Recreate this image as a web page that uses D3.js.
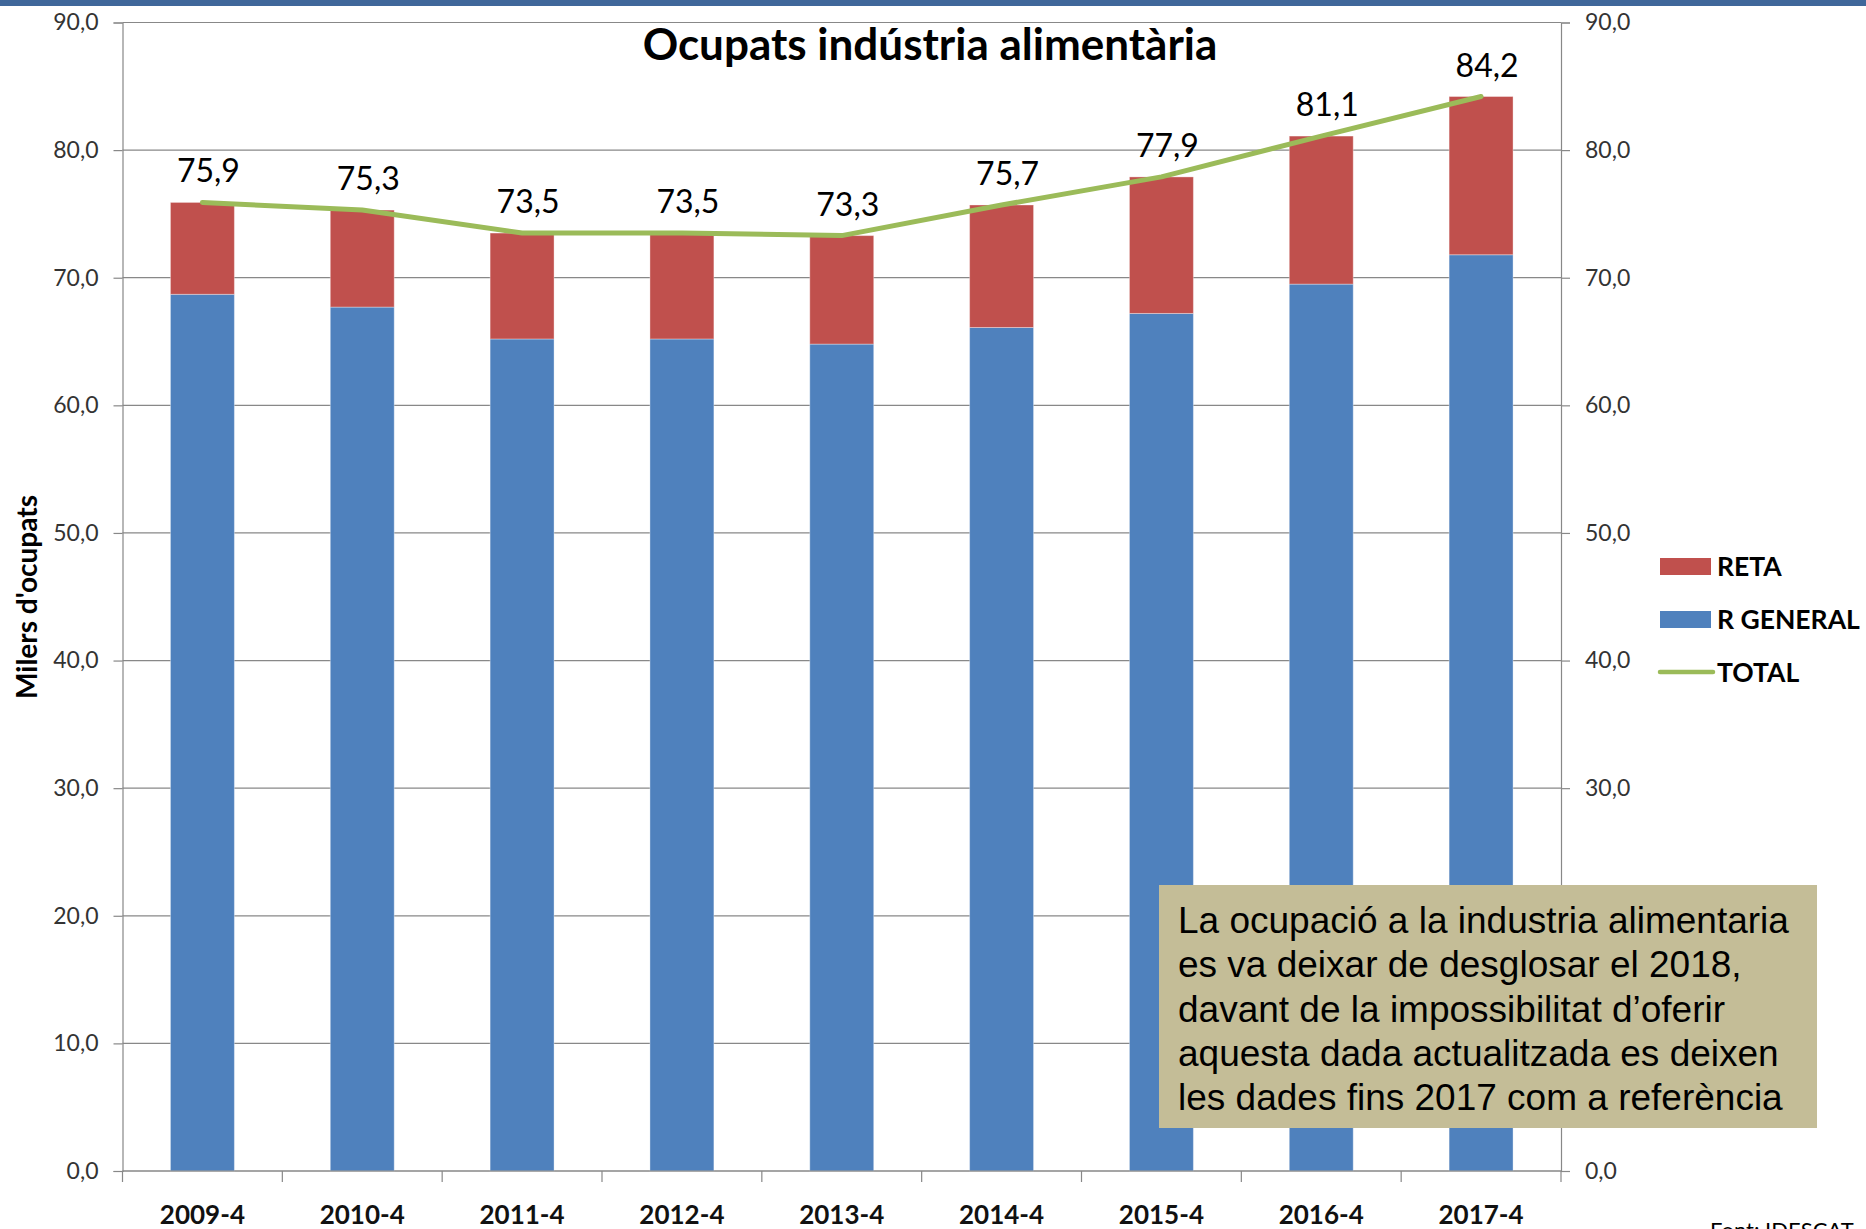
<!DOCTYPE html>
<html>
<head>
<meta charset="utf-8">
<script src="https://cdn.jsdelivr.net/npm/d3@7"></script>
<style>
  body { margin: 0; background: #fff; }
  svg { display: block; }
</style>
</head>
<body>
<svg id="chart" width="1866" height="1229"></svg>
<script>
// dades (milers d'ocupats)
const periods = ["2009-4", "2010-4", "2011-4", "2012-4", "2013-4", "2014-4", "2015-4", "2016-4", "2017-4"]
const rGeneral = [68.7, 67.7, 65.2, 65.2, 64.8, 66.1, 67.2, 69.5, 71.8]
const reta = [7.2, 7.6, 8.3, 8.3, 8.5, 9.6, 10.7, 11.6, 12.4]
const total = [75.9, 75.3, 73.5, 73.5, 73.3, 75.7, 77.9, 81.1, 84.2]
const yTicks = [0, 10, 20, 30, 40, 50, 60, 70, 80, 90]
const noteLines = [
    "La ocupació a la industria alimentaria",
    "es va deixar de desglosar el 2018,",
    "davant de la impossibilitat d\u2019oferir",
    "aquesta dada actualitzada es deixen",
    "les dades fins 2017 com a referència"
]

const calibri = "Lato, 'Open Sans', sans-serif"
const locale = d3.formatLocale({ decimal: ",", thousands: ".", grouping: [3], currency: ["", "€"] })
const fmt = locale.format(".1f")

const svg = d3.select("#chart")

// barra superior
svg.append("rect")
    .attr("x", 0).attr("y", 0)
    .attr("width", 1866).attr("height", 6)
    .attr("fill", "#3f679a")

const plotLeft = 122.5, plotRight = 1561, plotTop = 22.5, plotBottom = 1171
const note = { x: 1159, y: 885, w: 658, h: 243 }

const x = d3.scaleBand()
    .domain(periods)
    .range([plotLeft, plotRight])
    .paddingInner(0.6)
    .paddingOuter(0.3)

const y = d3.scaleLinear()
    .domain([0, 90])
    .range([plotBottom, plotTop])

// línies de graella
svg.append("g")
    .selectAll("line")
    .data(yTicks)
    .join("line")
    .attr("x1", plotLeft).attr("x2", plotRight)
    .attr("y1", d => y(d)).attr("y2", d => y(d))
    .attr("stroke", "#888")
    .attr("stroke-width", 1.2)

// eix esquerre
const yLeft = svg.append("g")
    .attr("transform", `translate(${plotLeft},0)`)
    .call(d3.axisLeft(y).tickValues(yTicks).tickFormat(fmt).tickSize(9).tickPadding(15))
yLeft.select(".domain").attr("stroke", "#888").attr("stroke-width", 1.2)
yLeft.selectAll(".tick line").attr("stroke", "#888").attr("stroke-width", 1.2)
yLeft.selectAll("text")
    .attr("font-family", calibri)
    .attr("font-size", 23)
    .attr("fill", "#333")

// eix dret (les etiquetes tapades per la nota no es veuen)
const yRight = svg.append("g")
    .attr("transform", `translate(${plotRight},0)`)
    .call(d3.axisRight(y).tickValues(yTicks).tickFormat(fmt).tickSize(9).tickPadding(15))
yRight.select(".domain").attr("stroke", "#888").attr("stroke-width", 1.2)
yRight.selectAll(".tick line").attr("stroke", "#888").attr("stroke-width", 1.2)
yRight.selectAll("text")
    .attr("font-family", calibri)
    .attr("font-size", 23)
    .attr("fill", "#333")
yRight.selectAll(".tick")
    .filter(d => y(d) > note.y && y(d) < note.y + note.h)
    .select("text").remove()

// barres apilades
const rows = periods.map((p, i) => ({ period: p, rg: rGeneral[i], reta: reta[i], total: total[i] }))
const stack = d3.stack().keys(["rg", "reta"])(rows)
const colors = { rg: "#4f81bd", reta: "#c0504d" }

svg.append("g")
    .selectAll("g")
    .data(stack)
    .join("g")
    .attr("fill", d => colors[d.key])
    .selectAll("rect")
    .data(d => d)
    .join("rect")
    .attr("x", d => x(d.data.period))
    .attr("width", x.bandwidth())
    .attr("y", d => y(d[1]))
    .attr("height", d => y(d[0]) - y(d[1]))
    .attr("stroke", "rgba(255,255,255,0.35)")
    .attr("stroke-width", 1)

// eix inferior
svg.append("line")
    .attr("x1", plotLeft).attr("x2", plotRight)
    .attr("y1", plotBottom).attr("y2", plotBottom)
    .attr("stroke", "#888").attr("stroke-width", 1.2)

const edges = d3.scaleLinear().domain([0, periods.length]).range([plotLeft, plotRight])
svg.append("g")
    .selectAll("line")
    .data(d3.range(periods.length + 1))
    .join("line")
    .attr("x1", d => edges(d)).attr("x2", d => edges(d))
    .attr("y1", plotBottom).attr("y2", plotBottom + 11)
    .attr("stroke", "#888").attr("stroke-width", 1.2)

svg.append("g")
    .selectAll("text")
    .data(periods)
    .join("text")
    .attr("x", d => x(d) + x.bandwidth() / 2)
    .attr("y", 1224)
    .attr("text-anchor", "middle")
    .attr("font-family", calibri)
    .attr("font-weight", "bold")
    .attr("font-size", 26)
    .attr("fill", "#111")
    .text(d => d)

// línia total
const line = d3.line()
    .x(d => x(d.period) + x.bandwidth() / 2)
    .y(d => y(d.total))

svg.append("path")
    .datum(rows)
    .attr("d", line)
    .attr("fill", "none")
    .attr("stroke", "#9bbb59")
    .attr("stroke-width", 5)
    .attr("stroke-linejoin", "round")
    .attr("stroke-linecap", "round")

svg.append("g")
    .selectAll("text")
    .data(rows)
    .join("text")
    .attr("x", d => x(d.period) + x.bandwidth() / 2 + 6)
    .attr("y", d => y(d.total) - 20)
    .attr("text-anchor", "middle")
    .attr("font-family", calibri)
    .attr("font-size", 32)
    .attr("fill", "#000")
    .text(d => fmt(d.total))

// títol
svg.append("text")
    .attr("x", 930)
    .attr("y", 60)
    .attr("text-anchor", "middle")
    .attr("font-family", calibri)
    .attr("font-weight", "bold")
    .attr("font-size", 44)
    .attr("fill", "#000")
    .text("Ocupats indústria alimentària")

// títol eix Y
svg.append("text")
    .attr("transform", "translate(37,597) rotate(-90)")
    .attr("text-anchor", "middle")
    .attr("font-family", calibri)
    .attr("font-weight", "bold")
    .attr("font-size", 28)
    .attr("fill", "#000")
    .text("Milers d'ocupats")

// llegenda
const legend = svg.append("g").attr("transform", "translate(1660,566)")
const legendItems = [
    { name: "RETA", color: colors.reta, type: "rect" },
    { name: "R GENERAL", color: colors.rg, type: "rect" },
    { name: "TOTAL", color: "#9bbb59", type: "line" }
]
legendItems.forEach((item, i) => {
    const g = legend.append("g").attr("transform", `translate(0,${i * 53})`)
    if (item.type === "rect") {
        g.append("rect")
            .attr("x", 0).attr("y", -8)
            .attr("width", 51).attr("height", 17)
            .attr("fill", item.color)
    } else {
        g.append("line")
            .attr("x1", 0).attr("x2", 53)
            .attr("y1", 0).attr("y2", 0)
            .attr("stroke", item.color)
            .attr("stroke-width", 4.5)
            .attr("stroke-linecap", "round")
    }
    g.append("text")
        .attr("x", 57)
        .attr("y", 10)
        .attr("font-family", calibri)
        .attr("font-weight", "bold")
        .attr("font-size", 26.5)
        .attr("fill", "#000")
        .text(item.name)
})

// nota
svg.append("rect")
    .attr("x", note.x).attr("y", note.y)
    .attr("width", note.w).attr("height", note.h)
    .attr("fill", "#c4bd97")

svg.append("g")
    .selectAll("text")
    .data(noteLines)
    .join("text")
    .attr("x", note.x + 19)
    .attr("y", (d, i) => note.y + 48 + i * 44.3)
    .attr("font-family", "'Liberation Sans Narrow', 'Arial Narrow', 'Liberation Sans', sans-serif")
    .attr("font-size", 37)
    .attr("fill", "#000")
    .text(d => d)

// font
svg.append("text")
    .attr("x", 1710)
    .attr("y", 1238)
    .attr("font-family", calibri)
    .attr("font-size", 22)
    .attr("fill", "#000")
    .text("Font: IDESCAT")
</script>
</body>
</html>
